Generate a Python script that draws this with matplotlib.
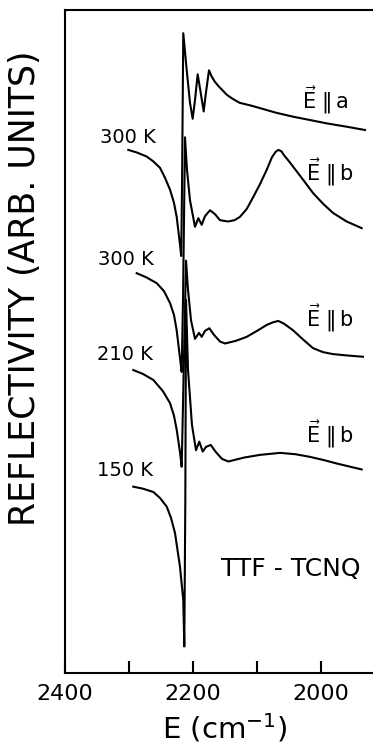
import matplotlib
matplotlib.use('Agg')
import matplotlib.pyplot as plt
from matplotlib.ticker import FixedLocator, NullLocator

# traced spectra, energy in cm^-1, reflectivity in arbitrary units (0-100)
e_a300 = [2301.1, 2287.5, 2272.3, 2262.5, 2251.6, 2243.8, 2235.9, 2229.7, 2225.5,
          2220.3, 2218.4, 2217.2, 2215.2, 2209.8, 2204.7, 2200.5, 2196.9, 2192.7,
          2189.1, 2183.3, 2179.7, 2175.0, 2171.0, 2166.0, 2160.0, 2153.0, 2147.0,
          2138.0, 2127.0, 2110.0, 2095.3, 2070.0, 2043.3, 2017.0, 1991.1, 1960.0,
          1931.3]
r_a300 = [78.9, 78.5, 77.9, 77.2, 76.2, 74.7, 72.9, 70.9, 68.8,
          64.6, 62.9, 72.9, 96.5, 90.9, 86.0, 83.6, 86.4, 90.3,
          88.2, 84.7, 87.6, 90.9, 90.0, 89.2, 88.5, 87.8, 87.2,
          86.6, 86.0, 85.6, 85.2, 84.5, 83.9, 83.4, 82.9, 82.4,
          81.9]

e_b300 = [2288.0, 2273.4, 2256.7, 2245.3, 2235.9, 2229.7, 2225.5, 2220.3, 2217.7,
          2215.6, 2212.5, 2209.4, 2204.7, 2196.9, 2191.7, 2186.4, 2181.3, 2173.4,
          2165.6, 2157.8, 2145.3, 2135.0, 2126.6, 2116.0, 2105.8, 2095.0, 2084.8,
          2076.6, 2071.0, 2066.7, 2062.0, 2057.8, 2051.0, 2043.8, 2028.0, 2012.5,
          1997.0, 1981.3, 1960.0, 1936.4]
r_b300 = [60.3, 59.7, 58.8, 57.6, 55.8, 54.0, 51.7, 47.5, 45.4,
          56.3, 80.8, 75.9, 71.3, 67.3, 68.6, 67.6, 68.9, 69.8,
          69.2, 68.3, 68.1, 68.3, 68.8, 70.0, 71.8, 73.8, 75.9,
          77.8, 78.6, 78.9, 78.7, 78.1, 77.3, 76.4, 74.4, 72.4,
          70.8, 69.4, 68.1, 67.1]

e_b210 = [2293.3, 2278.1, 2262.0, 2246.9, 2235.9, 2229.7, 2225.5, 2220.3, 2217.7,
          2214.8, 2210.9, 2207.8, 2203.1, 2196.9, 2190.6, 2186.4, 2181.3, 2174.5,
          2167.2, 2157.8, 2150.0, 2133.0, 2116.1, 2100.0, 2084.8, 2075.0, 2066.7,
          2058.0, 2043.8, 2028.0, 2012.5, 1997.0, 1981.3, 1960.0, 1934.4]
r_b210 = [45.7, 45.1, 44.2, 42.5, 40.7, 38.8, 36.7, 33.3, 31.1,
          44.2, 62.2, 57.8, 53.2, 50.4, 51.3, 50.7, 51.6, 52.0,
          51.0, 50.0, 49.7, 50.1, 50.7, 51.6, 52.5, 52.9, 53.1,
          52.7, 51.7, 50.3, 49.0, 48.4, 48.1, 47.9, 47.7]

e_b150 = [2293.3, 2278.1, 2262.0, 2251.6, 2241.1, 2234.4, 2228.1, 2220.3, 2215.2,
          2213.6, 2212.0, 2210.9, 2207.8, 2201.6, 2195.3, 2190.2, 2184.8, 2179.7,
          2172.3, 2164.1, 2154.7, 2144.8, 2120.0, 2095.3, 2064.1, 2040.0, 2017.2,
          1995.0, 1975.5, 1936.4]
r_b150 = [28.1, 27.8, 27.3, 26.4, 25.1, 23.4, 21.1, 16.0, 11.0,
          4.0, 26.1, 56.3, 45.7, 37.4, 33.6, 34.9, 33.4, 34.1,
          34.4, 33.3, 32.3, 31.9, 32.5, 32.9, 33.2, 33.0, 32.6,
          32.1, 31.6, 30.7]

temps = ["300 K", "300 K", "210 K", "150 K"]
pol = ["a", "b", "b", "b"]

fig = plt.figure(figsize=(3.73, 7.5), dpi=100)
ax = fig.add_axes([65 / 373, 77 / 750, 308 / 373, 663 / 750])

for e, r in [(e_a300, r_a300), (e_b300, r_b300), (e_b210, r_b210), (e_b150, r_b150)]:
    ax.plot(e, r, color="black", linewidth=1.5, solid_joinstyle="round")

ax.set_xlim(2400, 1918.75)
ax.set_ylim(0, 100)

# labels: temperature on the left, polarisation on the right
temp_pos = [(2346, 80.8), (2349, 62.4), (2350, 48.0), (2350, 30.5)]
pol_pos = [(1994, 86.4), (1986, 75.6), (1986, 53.5), (1986, 36.0)]
for t, (x, y) in zip(temps, temp_pos):
    ax.text(x, y, t, fontsize=14, ha="left", va="center")
for p, (x, y) in zip(pol, pol_pos):
    ax.text(x, y, r"$\vec{\mathsf{E}}\ \Vert\,\mathsf{" + p + "}$", fontsize=15,
            ha="center", va="center")
ax.text(2048, 15.7, "TTF - TCNQ", fontsize=18, ha="center", va="center")

ax.spines["right"].set_visible(False)
for s in ["left", "top", "bottom"]:
    ax.spines[s].set_linewidth(1.5)

ax.xaxis.set_major_locator(FixedLocator([2400, 2300, 2200, 2100, 2000]))
ax.set_xticklabels(["2400", "", "2200", "", "2000"])
ax.yaxis.set_major_locator(NullLocator())
ax.tick_params(axis="x", direction="in", length=9, width=1.5, pad=8, labelsize=16)

ax.set_xlabel(r"E (cm$^{-1}$)", fontsize=21)
ax.xaxis.set_label_coords(0.52, -0.058)
ax.set_ylabel("REFLECTIVITY (ARB. UNITS)", fontsize=25)
ax.yaxis.set_label_coords(-0.075, 0.58)

fig.savefig("out.png", dpi=100)
